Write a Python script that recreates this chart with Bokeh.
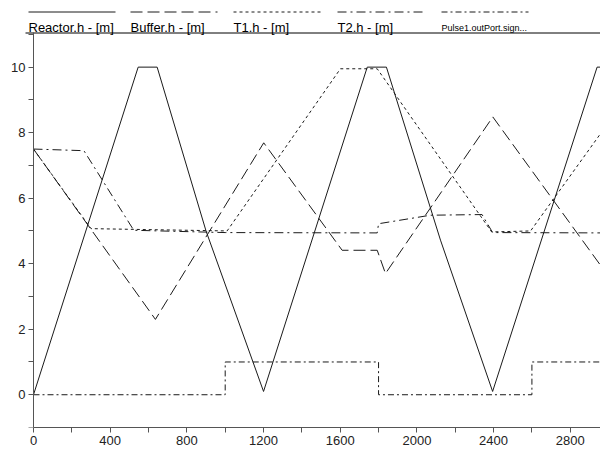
from bokeh.plotting import figure
from bokeh.models import Range1d, FixedTicker
from bokeh.core.properties import value
from bokeh.embed import file_html
from bokeh.resources import INLINE

# ---- data ----
time_reactor = [0, 546, 645, 900, 1200, 1741, 1841, 2123, 2395, 2940, 2958]
reactor = [0, 10, 10, 5.0, 0.1, 10, 10, 4.72, 0.1, 10, 10]

time_buffer = [0, 636, 1201, 1610, 1793, 1836, 2396, 2958]
buffer = [7.5, 2.3, 7.69, 4.41, 4.41, 3.70, 8.48, 3.95]

time_t1 = [0, 300, 1010, 1601, 1793, 2390, 2593, 2958]
t1 = [7.5, 5.07, 5.0, 9.95, 9.95, 4.97, 5.0, 7.97]

time_t2 = [0, 263, 523, 1000, 1793, 1800, 2071, 2340, 2395, 2958]
t2 = [7.5, 7.45, 5.02, 4.95, 4.94, 5.22, 5.48, 5.5, 4.95, 4.94]

time_pulse = [0, 1000, 1800, 2600, 2958]
pulse = [0, 1, 0, 1, 1]

legend_labels = ["Reactor.h - [m]", "Buffer.h - [m]", "T1.h - [m]", "T2.h - [m]",
                 "Pulse1.outPort.sign..."]
x_ticks = [0, 400, 800, 1200, 1600, 2000, 2400, 2800]
x_minor = [200, 600, 1000, 1400, 1800, 2200, 2600]
y_ticks = [0, 2, 4, 6, 8, 10]
y_minor = [-1, 1, 3, 5, 7, 9, 11]

# ---- styles / layout ----
LC = "#1a1a1a"
dashes = ["solid", "12 5", "3 3", "9 4 2 4", "6 3 2 3"]
FONT = "Liberation Sans"
W, H = 600, 450
FRAME_BOTTOM = 427          # page pixel of the x axis line
AXIS_X = 33                 # page pixel of the y axis line
PX_PER_T = 0.1917
PX_PER_V = 32.76

p = figure(width=W, height=H, output_backend="svg", toolbar_location=None,
           x_range=Range1d(-AXIS_X / PX_PER_T, (W - AXIS_X) / PX_PER_T),
           y_range=Range1d(-1, -1 + FRAME_BOTTOM / PX_PER_V),
           min_border_left=0, min_border_right=0, min_border_top=0,
           min_border_bottom=H - FRAME_BOTTOM)
p.grid.visible = False
p.outline_line_color = None

p.line(time_reactor, reactor, line_color=LC, line_width=1)
p.line(time_buffer, buffer, line_color=LC, line_width=1, line_dash=dashes[1])
p.line(time_t1, t1, line_color=LC, line_width=1, line_dash=dashes[2])
p.line(time_t2, t2, line_color=LC, line_width=1, line_dash=dashes[3])
p.step(time_pulse, pulse, mode="after", line_color=LC, line_width=1, line_dash=dashes[4])

p.xaxis.ticker = FixedTicker(ticks=x_ticks, minor_ticks=x_minor)
p.yaxis.ticker = FixedTicker(ticks=y_ticks, minor_ticks=y_minor)
p.xaxis.bounds = (0, (W - AXIS_X) / PX_PER_T)
p.yaxis.bounds = (-1, -1 + (FRAME_BOTTOM - 32) / PX_PER_V)
p.yaxis.fixed_location = 0
for ax in (p.xaxis, p.yaxis):
    ax.axis_line_color = "#555555"
    ax.major_tick_line_color = "#555555"
    ax.minor_tick_line_color = "#555555"
    ax.major_tick_in = 0
    ax.major_tick_out = 5
    ax.minor_tick_in = 0
    ax.minor_tick_out = 5
    ax.major_label_text_font = FONT
    ax.major_label_text_font_size = "13px"
    ax.major_label_text_color = "#222222"
p.xaxis.major_label_standoff = 3
p.yaxis.major_label_standoff = 3

# ---- legend strip above the data area (page-pixel ranges) ----
p.extra_x_ranges = {"px": Range1d(0, W)}
p.extra_y_ranges = {"px": Range1d(FRAME_BOTTOM, 0)}
leg_x0 = [28, 130, 233, 337, 441]
for i, lab in enumerate(legend_labels):
    p.segment(x0=leg_x0[i], y0=11.5, x1=leg_x0[i] + 87, y1=11.5,
              x_range_name="px", y_range_name="px",
              line_color=LC, line_width=1, line_dash=dashes[i])
    p.text(x=[leg_x0[i]], y=[27], text=[lab], x_range_name="px", y_range_name="px",
           text_font=value(FONT), text_font_size="9px" if i == 4 else "13px",
           text_color="#000000", text_baseline="alphabetic", text_align="left")
p.segment(x0=25, y0=32.5, x1=W, y1=32.5, x_range_name="px", y_range_name="px",
          line_color="#000000", line_width=1)

open("out.html", "w").write(file_html(p, INLINE))
